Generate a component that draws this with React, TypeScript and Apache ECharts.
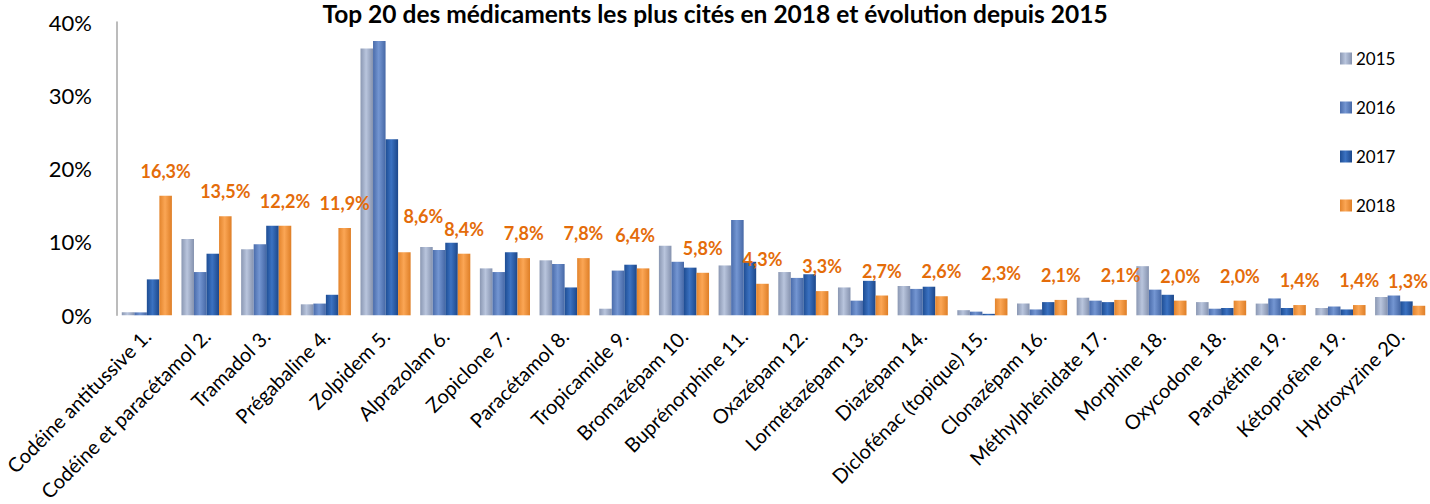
import React, { useEffect, useRef } from "react";
import * as echarts from "echarts";

const categories = [
  "Codéine antitussive 1.",
  "Codéine et paracétamol 2.",
  "Tramadol 3.",
  "Prégabaline 4.",
  "Zolpidem 5.",
  "Alprazolam 6.",
  "Zopiclone 7.",
  "Paracétamol 8.",
  "Tropicamide 9.",
  "Bromazépam 10.",
  "Buprénorphine 11.",
  "Oxazépam 12.",
  "Lormétazépam 13.",
  "Diazépam 14.",
  "Diclofénac (topique) 15.",
  "Clonazépam 16.",
  "Méthylphénidate 17.",
  "Morphine 18.",
  "Oxycodone 18.",
  "Paroxétine 19.",
  "Kétoprofène 19.",
  "Hydroxyzine 20.",
];

const v2015 = [0.4, 10.4, 9.0, 1.5, 36.4, 9.3, 6.4, 7.5, 0.9, 9.5, 6.8, 5.9, 3.8, 4.0, 0.7, 1.6, 2.4, 6.7, 1.8, 1.6, 1.0, 2.5];
const v2016 = [0.4, 5.9, 9.7, 1.6, 37.4, 8.9, 5.9, 7.0, 6.1, 7.3, 13.0, 5.1, 2.0, 3.6, 0.5, 0.8, 2.0, 3.5, 0.9, 2.3, 1.2, 2.7];
const v2017 = [4.9, 8.4, 12.2, 2.8, 24.0, 9.9, 8.6, 3.8, 6.9, 6.5, 7.3, 5.6, 4.7, 3.9, 0.2, 1.8, 1.8, 2.8, 1.0, 1.0, 0.8, 1.9];
const v2018 = [16.3, 13.5, 12.2, 11.9, 8.6, 8.4, 7.8, 7.8, 6.4, 5.8, 4.3, 3.3, 2.7, 2.6, 2.3, 2.1, 2.1, 2.0, 2.0, 1.4, 1.4, 1.3];

const seriesNames = ["2015", "2016", "2017", "2018"];
const yTicks = [0, 10, 20, 30, 40];

// label nudges (styling only) for a few manually moved labels in the original
const labelNudges: Record<number, [number, number]> = {
  4: [19, -11],
  8: [-8, -8],
  21: [-11, 0],
};

const FONT = "Lato, 'Noto Sans', sans-serif";

function grad(stops: string[]) {
  return new echarts.graphic.LinearGradient(0, 0, 1, 0, [
    { offset: 0, color: stops[0] },
    { offset: 0.45, color: stops[1] },
    { offset: 1, color: stops[2] },
  ]);
}

const palettes = [
  ["#8A97B2", "#B9C5DD", "#8592AE"],
  ["#4A6CAB", "#7496D2", "#4668A6"],
  ["#1E4D93", "#3B72C2", "#1C478A"],
  ["#E3842C", "#FBA655", "#DE7E26"],
];

const fmt = (v: number) => v.toFixed(1).replace(".", ",") + "%";

export default function App() {
  const ref = useRef<HTMLDivElement>(null);
  useEffect(() => {
    if (!ref.current) return;
    const chart = echarts.init(ref.current, undefined, { renderer: "svg" });
    const all = [v2015, v2016, v2017, v2018];
    const series = all.map((vals, si) => ({
      name: seriesNames[si],
      type: "bar",
      barGap: "0%",
      barCategoryGap: "16%",
      itemStyle: { color: grad(palettes[si]) },
      data:
        si === 3
          ? vals.map((v, i) => {
              const n = labelNudges[i];
              return n ? { value: v, label: { offset: n } } : v;
            })
          : vals,
      label:
        si === 3
          ? {
              show: true,
              position: "top",
              distance: 16,
              color: "#E46C0A",
              fontWeight: "bold",
              fontSize: 18,
              fontFamily: FONT,
              formatter: (p: any) => fmt(p.value),
            }
          : { show: false },
    }));
    chart.setOption({
      animation: false,
      textStyle: { fontFamily: FONT },
      title: {
        text: "Top 20 des médicaments les plus cités en 2018 et évolution depuis 2015",
        left: "center",
        top: 0,
        padding: 0,
        textStyle: { fontSize: 24.5, lineHeight: 26, fontWeight: "bold", color: "#000", fontFamily: FONT },
      },
      legend: {
        orient: "vertical",
        left: 1335,
        top: 45,
        itemWidth: 12,
        itemHeight: 12,
        itemGap: 32,
        icon: "rect",
        textStyle: { fontSize: 17, color: "#000", fontFamily: FONT, padding: [0, 0, 0, -1] },
        data: seriesNames,
      },
      grid: { left: 117, right: 0, top: 22, bottom: 187, containLabel: false },
      xAxis: {
        type: "category",
        data: categories,
        axisLine: {
          show: true,
          lineStyle: {
            color: "#A6A6A6",
            width: 2,
            shadowColor: "rgba(0,0,0,0.35)",
            shadowBlur: 3,
            shadowOffsetY: 2,
          },
        },
        axisTick: { show: false },
        axisLabel: {
          interval: 0,
          rotate: 45,
          margin: 17,
          fontSize: 20,
          color: "#000",
          fontFamily: FONT,
        },
      },
      yAxis: {
        type: "value",
        min: 0,
        max: 40,
        interval: 10,
        splitLine: { show: false },
        axisTick: { show: false },
        axisLine: { show: true, lineStyle: { color: "#A6A6A6", width: 1.5 } },
        axisLabel: {
          margin: 25,
          fontSize: 22,
          color: "#000",
          fontFamily: FONT,
          formatter: (v: number) => (yTicks.includes(v) ? v + "%" : ""),
        },
      },
      series,
    });
    return () => chart.dispose();
  }, []);
  return (
    <div
      ref={ref}
      style={{ position: "fixed", left: 0, top: 0, width: 1430, height: 504, background: "#fff" }}
    />
  );
}
